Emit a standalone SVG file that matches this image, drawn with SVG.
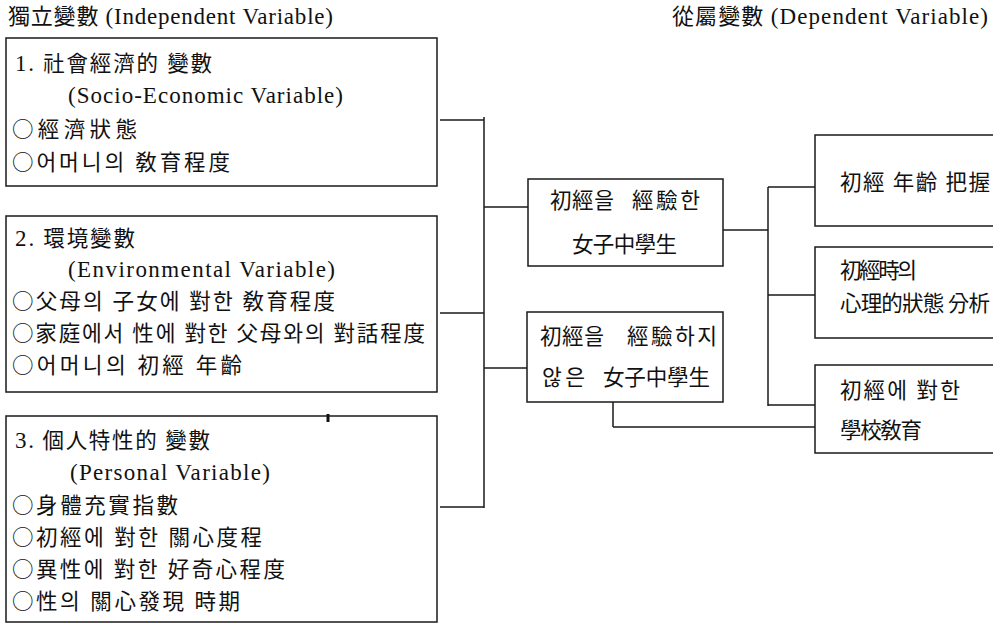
<svg xmlns="http://www.w3.org/2000/svg" width="993" height="626" viewBox="0 0 993 626">
<style>
  .bx { fill: none; stroke: #1a1a1a; stroke-width: 1.5; }
  .ln { fill: none; stroke: #1a1a1a; stroke-width: 1.5; }
  text { font-family: "Liberation Serif", "Noto Sans CJK KR", serif; font-size: 21.5px; fill: #111; }
  .hd { font-size: 22px; }
  .lt { font-size: 23px; }
  .c { font-family: "Noto Sans CJK KR", "Noto Sans CJK SC", sans-serif; }
</style>
<rect width="993" height="626" fill="#ffffff"/>
<g id="header-left"><text class="hd" x="8" y="24" textLength="325" lengthAdjust="spacing">獨立變數 <tspan class="lt">(Independent Variable)</tspan></text></g>
<g id="header-right"><text class="hd" x="672" y="24" textLength="316" lengthAdjust="spacing">從屬變數 <tspan class="lt">(Dependent Variable)</tspan></text></g>

<g id="box1">
  <rect class="bx" x="6" y="38" width="431" height="148"/>
  <text x="15" y="71" textLength="197" lengthAdjust="spacing"><tspan class="lt">1.</tspan> 社會經濟的 變數</text>
  <text class="lt" x="68" y="103" textLength="275" lengthAdjust="spacing">(Socio-Economic Variable)</text>
  <text x="12" y="137" textLength="125" lengthAdjust="spacing"><tspan class="c">○</tspan>經濟狀態</text>
  <text x="12" y="170" textLength="218" lengthAdjust="spacing"><tspan class="c">○</tspan>어머니의 敎育程度</text>
</g>

<g id="box2">
  <rect class="bx" x="6" y="216" width="431" height="176"/>
  <text x="15" y="246" textLength="120" lengthAdjust="spacing"><tspan class="lt">2.</tspan> 環境變數</text>
  <text class="lt" x="68" y="277" textLength="267" lengthAdjust="spacing">(Environmental Variable)</text>
  <text x="12" y="309" textLength="323" lengthAdjust="spacing"><tspan class="c">○</tspan>父母의 子女에 對한 敎育程度</text>
  <text x="12" y="341" textLength="413" lengthAdjust="spacing"><tspan class="c">○</tspan>家庭에서 性에 對한 父母와의 對話程度</text>
  <text x="12" y="373" textLength="230" lengthAdjust="spacing"><tspan class="c">○</tspan>어머니의 初經 年齡</text>
</g>

<g id="box3">
  <rect class="bx" x="6" y="416" width="431" height="206"/>
  <text x="15" y="448" textLength="195" lengthAdjust="spacing"><tspan class="lt">3.</tspan> 個人特性的 變數</text>
  <text class="lt" x="70" y="480" textLength="200" lengthAdjust="spacing">(Personal Variable)</text>
  <text x="12" y="513" textLength="166" lengthAdjust="spacing"><tspan class="c">○</tspan>身體充實指數</text>
  <text x="12" y="545" textLength="250" lengthAdjust="spacing"><tspan class="c">○</tspan>初經에 對한 關心度程</text>
  <text x="12" y="577" textLength="273" lengthAdjust="spacing"><tspan class="c">○</tspan>異性에 對한 好奇心程度</text>
  <text x="12" y="609" textLength="228" lengthAdjust="spacing"><tspan class="c">○</tspan>性의 關心發現 時期</text>
  <line x1="328" y1="414" x2="328" y2="422" stroke="#111" stroke-width="3"/>
</g>

<g id="mid1">
  <rect class="bx" x="528" y="179" width="195" height="87"/>
  <text y="208"><tspan x="550" textLength="64" lengthAdjust="spacing">初經을</tspan> <tspan x="632" textLength="68" lengthAdjust="spacing">經驗한</tspan></text>
  <text x="572" y="252" textLength="105" lengthAdjust="spacing">女子中學生</text>
</g>

<g id="mid2">
  <rect class="bx" x="527" y="312" width="196" height="90"/>
  <text y="344"><tspan x="540" textLength="64" lengthAdjust="spacing">初經을</tspan> <tspan x="627" textLength="90" lengthAdjust="spacing">經驗하지</tspan></text>
  <text y="385"><tspan x="542" textLength="43" lengthAdjust="spacing">않은</tspan> <tspan x="603" textLength="107" lengthAdjust="spacing">女子中學生</tspan></text>
</g>

<g id="dep1">
  <rect class="bx" x="815" y="135" width="220" height="91"/>
  <text x="840" y="190" textLength="150" lengthAdjust="spacing">初經 年齡 把握</text>
</g>

<g id="dep2">
  <rect class="bx" x="815" y="247" width="220" height="91"/>
  <text x="840" y="278" textLength="77" lengthAdjust="spacing">初經時의</text>
  <text x="840" y="311" textLength="150" lengthAdjust="spacing">心理的狀態 分析</text>
</g>

<g id="dep3">
  <rect class="bx" x="815" y="365" width="220" height="88"/>
  <text x="840" y="398" textLength="120" lengthAdjust="spacing">初經에 對한</text>
  <text x="840" y="438" textLength="82" lengthAdjust="spacing">學校敎育</text>
</g>

<g id="connectors">
  <line class="ln" x1="440" y1="120" x2="484" y2="120"/>
  <line class="ln" x1="440" y1="313" x2="484" y2="313"/>
  <line class="ln" x1="440" y1="507" x2="484" y2="507"/>
  <line class="ln" x1="484" y1="117" x2="484" y2="508"/>
  <line class="ln" x1="484" y1="207" x2="528" y2="207"/>
  <line class="ln" x1="484" y1="368" x2="527" y2="368"/>
  <line class="ln" x1="723" y1="230" x2="768" y2="230"/>
  <line class="ln" x1="768" y1="187" x2="768" y2="406"/>
  <line class="ln" x1="768" y1="187" x2="815" y2="187"/>
  <line class="ln" x1="768" y1="295" x2="815" y2="295"/>
  <line class="ln" x1="768" y1="405" x2="815" y2="405"/>
  <line class="ln" x1="613" y1="402" x2="613" y2="427"/>
  <line class="ln" x1="613" y1="427" x2="815" y2="427"/>
</g>
</svg>
